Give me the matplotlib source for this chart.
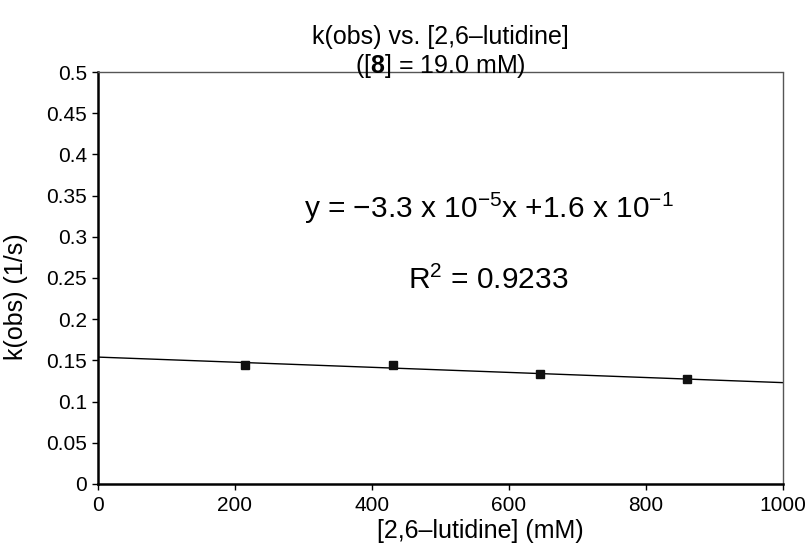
import matplotlib
matplotlib.use("Agg")
import matplotlib.pyplot as plt
import numpy as np

plt.rcParams['font.family'] = ['Liberation Sans', 'DejaVu Sans']
plt.rcParams['mathtext.fontset'] = 'custom'
plt.rcParams['mathtext.rm'] = 'Liberation Sans'
plt.rcParams['mathtext.it'] = 'Liberation Sans'
plt.rcParams['mathtext.bf'] = 'Liberation Sans:bold'

# data
lutidine_mM = [215, 430, 645, 860]
kobs = [0.145, 0.145, 0.134, 0.127]
fit_slope = -3.1e-5
fit_intercept = 0.154
fit_x = [0, 1000]
x_ticks = [0, 200, 400, 600, 800, 1000]
y_ticks = [0, 0.05, 0.1, 0.15, 0.2, 0.25, 0.3, 0.35, 0.4, 0.45, 0.5]
y_ticklabels = ['0', '0.05', '0.1', '0.15', '0.2', '0.25', '0.3', '0.35', '0.4', '0.45', '0.5']

fig = plt.figure(figsize=(8.11, 5.53), dpi=100)
ax = fig.add_axes([0.1208, 0.1248, 0.8447, 0.745])

fx = np.array(fit_x, dtype=float)
ax.plot(fx, fit_slope * fx + fit_intercept, color='black', lw=1.0, zorder=2)
ax.plot(lutidine_mM, kobs, 's', color='#111111', ms=6, zorder=3)

ax.set_xlim(0, 1000)
ax.set_ylim(0, 0.5)
ax.set_xticks(x_ticks)
ax.set_xticklabels([str(t) for t in x_ticks])
ax.set_yticks(y_ticks)
ax.set_yticklabels(y_ticklabels)
ax.tick_params(axis='both', labelsize=15, length=4, width=1.0, direction='out', colors='black')
ax.tick_params(axis='x', pad=5)
ax.tick_params(axis='y', pad=4)

for s in ['left', 'bottom']:
    ax.spines[s].set_linewidth(1.8)
    ax.spines[s].set_color('black')
for s in ['top', 'right']:
    ax.spines[s].set_linewidth(1.0)
    ax.spines[s].set_color('#555555')
    ax.spines[s].set_linestyle((0, (2, 1)))

ax.set_xlabel('[2,6\u2013lutidine] (mM)', fontsize=18, labelpad=1)
ax.xaxis.set_label_coords(0.558, -0.085)
ax.set_ylabel('k(obs) (1/s)', fontsize=18)
ax.yaxis.set_label_coords(-0.102, 0.455)

fig.text(0.5425, 0.920, 'k(obs) vs. [2,6\u2013lutidine]', ha='center', va='baseline', fontsize=18)
fig.text(0.5425, 0.868, '([$\\mathbf{8}$] = 19.0 mM)', ha='center', va='baseline', fontsize=18)

ax.text(0.571, 0.67, 'y = \u22123.3 x 10$^{\u22125}$x +1.6 x 10$^{\u22121}$',
        transform=ax.transAxes, ha='center', va='center', fontsize=21.5)
ax.text(0.569, 0.495, 'R$^{2}$ = 0.9233', transform=ax.transAxes,
        ha='center', va='center', fontsize=21.5)

fig.savefig('out.png', dpi=100, facecolor='white')
